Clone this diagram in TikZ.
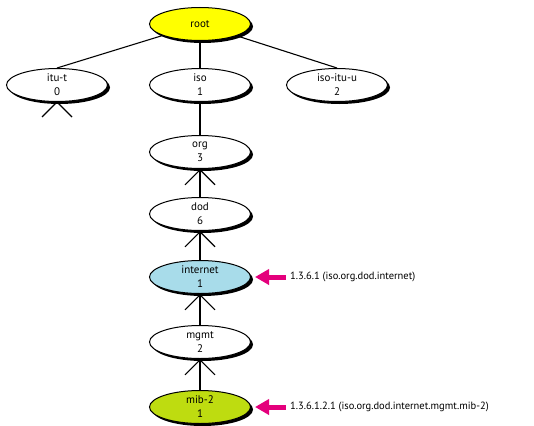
\documentclass[tikz,border=0pt]{standalone}
\usepackage{fontspec}
\setmainfont{PT Sans}
\usetikzlibrary{shapes.geometric,shadows,arrows.meta}
\definecolor{rootyellow}{RGB}{255,255,0}
\definecolor{netblue}{RGB}{168,220,234}
\definecolor{mibgreen}{RGB}{190,220,16}
\definecolor{oidpink}{RGB}{228,0,124}
\tikzset{
	oid/.style={ellipse, draw, fill=white, line width=1pt, minimum width=101pt, minimum height=33pt, inner sep=0pt, align=center,
		font=\fontsize{11}{14}\selectfont,
		drop shadow={shadow xshift=2.5pt, shadow yshift=-2.5pt, fill=black, opacity=1}},
	up/.style={line width=1.1pt, -{Straight Barb[length=15pt, width=30pt, line width=1.1pt]}},
	pointer/.style={line width=5pt, oidpink, -{Triangle[length=14pt, width=15pt]}, shorten >=4pt, shorten <=4pt},
	oidtext/.style={anchor=west, inner xsep=0pt, font=\fontsize{10.5}{12}\selectfont}
}
\begin{document}
\begin{tikzpicture}[x=1pt, y=-1pt]
	\useasboundingbox (0,0) rectangle (534,425);
	\node[oid, fill=rootyellow] (root) at (200,24) {root};
	\node[oid] (itu) at (57,85) {itu-t\\0};
	\node[oid] (iso) at (200,85) {iso\\1};
	\node[oid] (joint) at (337,85) {iso-itu-u\\2};
	\foreach \child in {itu, iso, joint}{
		\draw[line width=1.1pt] (root) -- (\child.north);}
	% the chain under iso
	\foreach \name/\lab/\num/\col/\y in {org/org/3/white/152, dod/dod/6/white/214, internet/internet/1/netblue/277, mgmt/mgmt/2/white/342, mib/mib-2/1/mibgreen/407}{
		\node[oid, fill=\col] (\name) at (200,\y) {\lab\\\num};}
	\draw[line width=1.1pt] (iso) -- (org);
	\foreach \lo/\hi in {dod/org, internet/dod, mgmt/internet, mib/mgmt}{
		\draw[up] (\lo) -- (\hi);}
	\draw[line width=1.1pt] (itu.south) ++(-15,15) -- (itu.south) -- ++(15,15);
	% OIDs
	\node[oidtext] (netoid) at (290,277) {1.3.6.1 (iso.org.dod.internet)};
	\node[oidtext] (miboid) at (290,407) {1.3.6.1.2.1 (iso.org.dod.internet.mgmt.mib-2)};
	\draw[pointer] (netoid.west) -- (internet.east);
	\draw[pointer] (miboid.west) -- (mib.east);
\end{tikzpicture}
\end{document}
